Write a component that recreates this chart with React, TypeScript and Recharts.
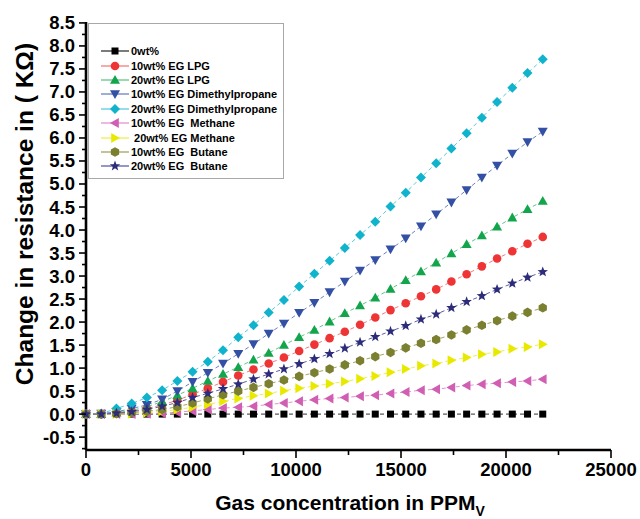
import React from "react";
import { LineChart, Line, XAxis, YAxis } from "recharts";

const concentracion = [
  0, 725, 1450, 2175, 2900, 3625, 4350, 5075, 5800, 6525, 7250, 7975, 8700, 9425, 10150, 10875,
  11600, 12325, 13050, 13775, 14500, 15225, 15950, 16675, 17400, 18125, 18850, 19575, 20300, 21025, 21750,
];

const base0 = [
  0, 0, 0, 0, 0, 0, 0, 0, 0, 0, 0, 0, 0, 0, 0, 0, 0, 0, 0, 0, 0, 0, 0, 0, 0, 0, 0, 0, 0, 0, 0,
];
const lpg10 = [
  0, 0, 0.02, 0.06, 0.12, 0.2, 0.3, 0.43, 0.56, 0.7, 0.84, 0.97, 1.1, 1.23, 1.37, 1.51, 1.65, 1.79,
  1.94, 2.1, 2.26, 2.41, 2.56, 2.71, 2.88, 3.04, 3.21, 3.38, 3.54, 3.7, 3.85,
];
const lpg20 = [
  0, 0, 0.03, 0.08, 0.16, 0.27, 0.41, 0.56, 0.72, 0.87, 1.02, 1.18, 1.33, 1.5, 1.67, 1.83, 2.01, 2.19,
  2.36, 2.53, 2.72, 2.91, 3.1, 3.29, 3.49, 3.69, 3.88, 4.07, 4.27, 4.45, 4.63,
];
const dmp10 = [
  0, 0.01, 0.05, 0.12, 0.2, 0.32, 0.5, 0.7, 0.9, 1.1, 1.31, 1.52, 1.75, 1.97, 2.2, 2.42, 2.65, 2.88,
  3.12, 3.35, 3.58, 3.82, 4.08, 4.34, 4.6, 4.87, 5.14, 5.4, 5.66, 5.91, 6.14,
];
const dmp20 = [
  0, 0.01, 0.12, 0.23, 0.36, 0.52, 0.72, 0.92, 1.14, 1.39, 1.67, 1.93, 2.21, 2.48, 2.77, 3.05, 3.33,
  3.61, 3.89, 4.18, 4.51, 4.81, 5.14, 5.45, 5.77, 6.1, 6.44, 6.78, 7.09, 7.41, 7.71,
];
const metano10 = [
  0, 0, 0, 0, 0.01, 0.02, 0.04, 0.07, 0.1, 0.13, 0.15, 0.17, 0.21, 0.24, 0.28, 0.31, 0.34, 0.36,
  0.39, 0.41, 0.45, 0.48, 0.52, 0.54, 0.58, 0.62, 0.65, 0.67, 0.7, 0.72, 0.76,
];
const metano20 = [
  0, 0, 0, 0.01, 0.03, 0.06, 0.1, 0.15, 0.21, 0.28, 0.34, 0.4, 0.45, 0.51, 0.56, 0.61, 0.66, 0.71,
  0.77, 0.83, 0.91, 0.98, 1.05, 1.1, 1.17, 1.23, 1.3, 1.35, 1.42, 1.46, 1.52,
];
const butano10 = [
  0, 0, 0.01, 0.03, 0.06, 0.1, 0.16, 0.24, 0.33, 0.42, 0.5, 0.58, 0.66, 0.74, 0.82, 0.9, 0.98, 1.07,
  1.16, 1.25, 1.34, 1.44, 1.54, 1.62, 1.72, 1.83, 1.93, 2.03, 2.13, 2.21, 2.31,
];
const butano20 = [
  0, 0, 0.02, 0.05, 0.1, 0.17, 0.25, 0.36, 0.45, 0.55, 0.65, 0.76, 0.87, 0.98, 1.09, 1.2, 1.31, 1.43,
  1.56, 1.68, 1.8, 1.92, 2.06, 2.17, 2.31, 2.44, 2.57, 2.71, 2.84, 2.97, 3.09,
];

const yTicks = [
  -0.75, -0.5, -0.25, 0, 0.25, 0.5, 0.75, 1, 1.25, 1.5, 1.75, 2, 2.25, 2.5, 2.75, 3, 3.25, 3.5, 3.75,
  4, 4.25, 4.5, 4.75, 5, 5.25, 5.5, 5.75, 6, 6.25, 6.5, 6.75, 7, 7.25, 7.5, 7.75, 8, 8.25, 8.5,
];
const xTicks = [0, 2500, 5000, 7500, 10000, 12500, 15000, 17500, 20000, 22500, 25000];

type Forma = "cuadrado" | "circulo" | "arriba" | "abajo" | "rombo" | "izq" | "der" | "hexagono" | "estrella";

const series: { key: string; nombre: string; datos: number[]; color: string; linea: string; forma: Forma }[] = [
  { key: "s0", nombre: "0wt%", datos: base0, color: "#000000", linea: "#333333", forma: "cuadrado" },
  { key: "s1", nombre: "10wt% EG LPG", datos: lpg10, color: "#ee3434", linea: "#f37c7c", forma: "circulo" },
  { key: "s2", nombre: "20wt% EG LPG", datos: lpg20, color: "#13a54c", linea: "#62c48a", forma: "arriba" },
  { key: "s3", nombre: "10wt% EG Dimethylpropane", datos: dmp10, color: "#3350a4", linea: "#6b80c2", forma: "abajo" },
  { key: "s4", nombre: "20wt% EG Dimethylpropane", datos: dmp20, color: "#10b3cc", linea: "#5ccbe0", forma: "rombo" },
  { key: "s5", nombre: "10wt% EG  Methane", datos: metano10, color: "#d05eb2", linea: "#e393cf", forma: "izq" },
  { key: "s6", nombre: " 20wt% EG Methane", datos: metano20, color: "#e9e900", linea: "#eeee55", forma: "der" },
  { key: "s7", nombre: "10wt% EG  Butane", datos: butano10, color: "#7b7f30", linea: "#a2a562", forma: "hexagono" },
  { key: "s8", nombre: "20wt% EG  Butane", datos: butano20, color: "#2c2c7a", linea: "#5f5fa6", forma: "estrella" },
];

const tabla = concentracion.map((x, i) => {
  const fila: Record<string, number> = { x };
  series.forEach((s) => (fila[s.key] = s.datos[i]));
  return fila;
});

const FUENTE = "'Liberation Sans', Arial, sans-serif";

function marca(forma: Forma, cx: number, cy: number, color: string, k?: string) {
  switch (forma) {
    case "cuadrado":
      return <rect key={k} x={cx - 3.5} y={cy - 3.5} width={7} height={7} fill={color} />;
    case "circulo":
      return <circle key={k} cx={cx} cy={cy} r={4.3} fill={color} />;
    case "arriba":
      return <polygon key={k} points={`${cx},${cy - 5} ${cx + 5},${cy + 3.8} ${cx - 5},${cy + 3.8}`} fill={color} />;
    case "abajo":
      return <polygon key={k} points={`${cx},${cy + 5} ${cx + 5},${cy - 3.8} ${cx - 5},${cy - 3.8}`} fill={color} />;
    case "rombo":
      return <polygon key={k} points={`${cx},${cy - 5} ${cx + 5},${cy} ${cx},${cy + 5} ${cx - 5},${cy}`} fill={color} />;
    case "izq":
      return <polygon key={k} points={`${cx - 5},${cy} ${cx + 3.8},${cy - 5} ${cx + 3.8},${cy + 5}`} fill={color} />;
    case "der":
      return <polygon key={k} points={`${cx + 5},${cy} ${cx - 3.8},${cy - 5} ${cx - 3.8},${cy + 5}`} fill={color} />;
    case "hexagono": {
      const p = [0, 1, 2, 3, 4, 5]
        .map((j) => {
          const a = (Math.PI / 3) * j + Math.PI / 6;
          return `${cx + 4.8 * Math.cos(a)},${cy + 4.8 * Math.sin(a)}`;
        })
        .join(" ");
      return <polygon key={k} points={p} fill={color} />;
    }
    case "estrella": {
      const p = Array.from({ length: 10 }, (_, j) => {
        const r = j % 2 === 0 ? 5.5 : 2.3;
        const a = -Math.PI / 2 + (Math.PI / 5) * j;
        return `${cx + r * Math.cos(a)},${cy + r * Math.sin(a)}`;
      }).join(" ");
      return <polygon key={k} points={p} fill={color} />;
    }
  }
}

const TickY = (props: any) => {
  const { x, y, payload } = props;
  const v = payload.value as number;
  const mayor = Math.abs(v * 2 - Math.round(v * 2)) < 1e-6;
  return (
    <g>
      <line x1={x - (mayor ? 7 : 4)} x2={x} y1={y} y2={y} stroke="#000" strokeWidth={1.6} />
      {mayor && (
        <text x={x - 11} y={y} dy={6.5} textAnchor="end" fontFamily={FUENTE} fontWeight="bold" fontSize={18.5} fill="#000">
          {v.toFixed(1)}
        </text>
      )}
    </g>
  );
};

const TickX = (props: any) => {
  const { x, y, payload } = props;
  const v = payload.value as number;
  const mayor = v % 5000 === 0;
  return (
    <g>
      <line x1={x} x2={x} y1={y} y2={y + (mayor ? 8 : 5)} stroke="#000" strokeWidth={1.6} />
      {mayor && (
        <text x={x} y={y + 26} textAnchor="middle" fontFamily={FUENTE} fontWeight="bold" fontSize={18.5} fill="#000">
          {v}
        </text>
      )}
    </g>
  );
};

// la leyenda va encima del gráfico, fuera del cálculo de márgenes de recharts
const Leyenda = () => (
  <div
    style={{
      position: "absolute",
      left: 88,
      top: 23,
      width: 196,
      height: 156,
      boxSizing: "border-box",
      border: "1px solid #a8a8a8",
      paddingTop: 20,
      fontFamily: FUENTE,
      fontWeight: "bold",
      fontSize: 11,
      pointerEvents: "none",
    }}
  >
    {series.map((s) => (
      <div key={s.key} style={{ height: 14.4, display: "flex", alignItems: "center", whiteSpace: "pre" }}>
        <svg width={42} height={14} style={{ flex: "none" }}>
          <line x1={12} x2={40} y1={7} y2={7} stroke={s.linea} strokeWidth={1.3} />
          {marca(s.forma, 26, 7, s.color)}
        </svg>
        <span>{s.nombre}</span>
      </div>
    ))}
  </div>
);

export default function App() {
  return (
    <div style={{ position: "absolute", left: 0, top: 0, width: 640, height: 519, background: "#fff" }}>
      <LineChart width={640} height={519} data={tabla} margin={{ top: 22, right: 29, left: 0, bottom: 0 }}>
        <XAxis
          xAxisId="b"
          dataKey="x"
          type="number"
          domain={[0, 25000]}
          ticks={xTicks}
          interval={0}
          height={69}
          tickSize={0}
          tickMargin={0}
          tickLine={false}
          tick={<TickX />}
          axisLine={{ stroke: "#000", strokeWidth: 2.6 }}
          label={() => (
            <text x={350} y={510} textAnchor="middle" fontFamily={FUENTE} fontWeight="bold" fontSize={21} fill="#000">
              <tspan>Gas concentration in PPM</tspan>
              <tspan fontSize={14} dy={6}>V</tspan>
            </text>
          )}
        />
        <XAxis xAxisId="t" orientation="top" dataKey="x" type="number" domain={[0, 25000]} height={0} tick={false} tickLine={false} axisLine={{ stroke: "#000", strokeWidth: 2.6 }} />
        <YAxis
          yAxisId="l"
          type="number"
          domain={[-0.78, 8.52]}
          ticks={yTicks}
          interval={0}
          width={86}
          tickSize={0}
          tickMargin={0}
          tickLine={false}
          tick={<TickY />}
          axisLine={{ stroke: "#000", strokeWidth: 2.6 }}
          label={() => (
            <text
              x={33}
              y={214}
              transform="rotate(-90 33 214)"
              textAnchor="middle"
              fontFamily={FUENTE}
              fontWeight="bold"
              fontSize={24.5}
              fill="#000"
            >
              Change in resistance in ( KΩ)
            </text>
          )}
        />
        <YAxis yAxisId="r" orientation="right" type="number" domain={[-0.78, 8.52]} width={0} tick={false} tickLine={false} axisLine={{ stroke: "#000", strokeWidth: 2.6 }} />
        {series.map((s) => (
          <Line
            key={s.key}
            xAxisId="b"
            yAxisId="l"
            dataKey={s.key}
            name={s.nombre}
            stroke={s.linea}
            strokeWidth={1}
            strokeDasharray="4 3"
            isAnimationActive={false}
            dot={(p: any) => marca(s.forma, p.cx, p.cy, s.color, `${s.key}-${p.index}`)}
            activeDot={false}
          />
        ))}
      </LineChart>
      <Leyenda />
    </div>
  );
}
